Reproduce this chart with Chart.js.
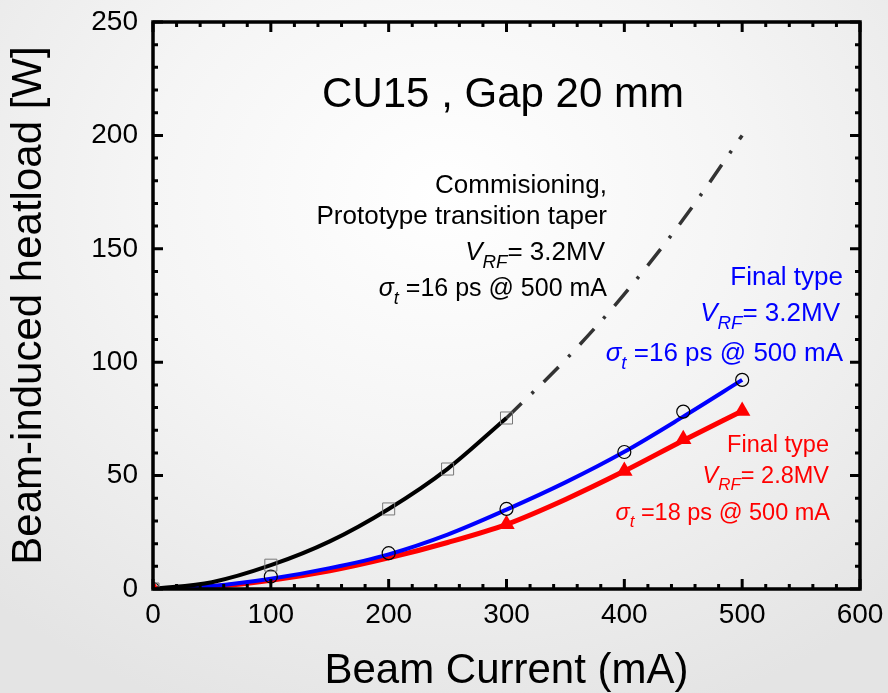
<!DOCTYPE html>
<html>
<head>
<meta charset="utf-8">
<script src="https://cdn.jsdelivr.net/npm/chart.js@4.4.1/dist/chart.umd.min.js"></script>
<style>
  html, body { margin: 0; padding: 0; }
  body {
    width: 888px; height: 693px; overflow: hidden;
    background: radial-gradient(ellipse 75% 80% at 50% 28%, #ffffff 0%, #f5f5f5 45%, #e4e4e4 100%);
  }
</style>
</head>
<body>
<canvas id="chart" width="888" height="693"></canvas>
<script>
// measured points
const commCurrent = [0, 100, 200, 250, 300];
const commHeat = [0, 10.5, 35.3, 52.9, 75.4];
const finalCurrent = [0, 100, 200, 300, 400, 450, 500];
const final32Heat = [0, 5.5, 15.8, 35.3, 60.4, 78.2, 92.2];
const final28Current = [0, 300, 400, 450, 500];
const final28Heat = [0, 28.5, 52, 66, 78.5];

// fitted curves
const fitCurrent = [0, 50, 100, 150, 200, 250, 300, 350, 400, 450, 500];
const commFitHeat = [0, 3, 10.5, 21, 35.3, 53, 75.4];
const extrapCurrent = [300, 350, 400, 450, 500];
const commExtrapHeat = [75.4, 101, 130, 163, 200];
const final32FitHeat = [0, 1.3, 4.5, 9.2, 15.3, 24, 35, 47, 60.5, 76, 92.2];
const final28FitHeat = [0, 1, 3.8, 8, 13.7, 20.5, 28.5, 39.5, 52, 65.5, 78.5];

const xTickValues = [0, 100, 200, 300, 400, 500, 600];
const yTickValues = [0, 50, 100, 150, 200, 250];

const FONT = '"Liberation Sans", Arial, sans-serif';

function pts(xs, ys) {
  return ys.map((y, i) => ({ x: xs[i], y: y }));
}

// annotation blocks: right aligned text, parts may be italic (i) or subscript (s)
const notes = [
  { x: 607, y: 107, size: 42, color: '#000', center: 503, parts: [{ t: 'CU15 , Gap 20 mm' }] },
  { x: 607, y: 193, size: 26, color: '#000', parts: [{ t: 'Commisioning,' }] },
  { x: 607, y: 224, size: 26, color: '#000', parts: [{ t: 'Prototype transition taper' }] },
  { x: 605, y: 260, size: 26, color: '#000', parts: [{ t: 'V', i: 1 }, { t: 'RF', i: 1, s: 1 }, { t: '= 3.2MV' }] },
  { x: 607, y: 296, size: 25, color: '#000', parts: [{ t: '\u03c3', i: 1 }, { t: 't', i: 1, s: 1 }, { t: ' =16 ps @ 500 mA' }] },
  { x: 843, y: 285, size: 26, color: '#0000ff', parts: [{ t: 'Final type' }] },
  { x: 840, y: 321, size: 26, color: '#0000ff', parts: [{ t: 'V', i: 1 }, { t: 'RF', i: 1, s: 1 }, { t: '= 3.2MV' }] },
  { x: 843, y: 361, size: 26, color: '#0000ff', parts: [{ t: '\u03c3', i: 1 }, { t: 't', i: 1, s: 1 }, { t: ' =16 ps @ 500 mA' }] },
  { x: 829, y: 452, size: 23.5, color: '#ff0000', parts: [{ t: 'Final type' }] },
  { x: 829, y: 483, size: 23.5, color: '#ff0000', parts: [{ t: 'V', i: 1 }, { t: 'RF', i: 1, s: 1 }, { t: '= 2.8MV' }] },
  { x: 830, y: 520, size: 23.5, color: '#ff0000', parts: [{ t: '\u03c3', i: 1 }, { t: 't', i: 1, s: 1 }, { t: ' =18 ps @ 500 mA' }] }
];

function partFont(p, size) {
  return (p.i ? 'italic ' : '') + (p.s ? size * 0.72 : size) + 'px ' + FONT;
}

function drawNote(ctx, n) {
  let w = 0;
  n.parts.forEach(p => { ctx.font = partFont(p, n.size); w += ctx.measureText(p.t).width; });
  let x = n.center !== undefined ? n.center - w / 2 : n.x - w;
  ctx.fillStyle = n.color;
  ctx.textAlign = 'left';
  ctx.textBaseline = 'alphabetic';
  n.parts.forEach(p => {
    ctx.font = partFont(p, n.size);
    ctx.fillText(p.t, x, n.y + (p.s ? n.size * 0.3 : 0));
    x += ctx.measureText(p.t).width;
  });
}

// box frame with inward major/minor ticks on all four sides
const framePlugin = {
  id: 'frame',
  afterDatasetsDraw(chart) {
    const { ctx, chartArea: a, scales: { x, y } } = chart;
    ctx.save();
    ctx.strokeStyle = '#000';
    ctx.lineCap = 'butt';
    ctx.lineWidth = 3;
    for (let v = 0; v <= 600; v += 20) {
      const px = x.getPixelForValue(v);
      const len = v % 100 === 0 ? 10 : 5;
      ctx.beginPath();
      ctx.moveTo(px, a.bottom); ctx.lineTo(px, a.bottom - len);
      ctx.moveTo(px, a.top); ctx.lineTo(px, a.top + len);
      ctx.stroke();
    }
    for (let v = 0; v <= 250; v += 10) {
      const py = y.getPixelForValue(v);
      const len = v % 50 === 0 ? 10 : 5;
      ctx.beginPath();
      ctx.moveTo(a.left, py); ctx.lineTo(a.left + len, py);
      ctx.moveTo(a.right, py); ctx.lineTo(a.right - len, py);
      ctx.stroke();
    }
    ctx.lineWidth = 3.5;
    ctx.strokeRect(a.left, a.top, a.right - a.left, a.bottom - a.top);
    ctx.restore();
  },
  afterDraw(chart) {
    const ctx = chart.ctx;
    ctx.save();
    notes.forEach(n => drawNote(ctx, n));
    ctx.restore();
  }
};

new Chart(document.getElementById('chart'), {
  type: 'line',
  data: {
    datasets: [
      {
        data: pts(commCurrent, commHeat), showLine: false, order: 1,
        pointStyle: 'rect', pointRadius: 8.5, pointBorderWidth: 1,
        pointBorderColor: '#777', pointBackgroundColor: 'rgba(0,0,0,0)'
      },
      {
        data: pts(finalCurrent, final32Heat), showLine: false, order: 1,
        pointStyle: 'circle', pointRadius: 6.5, pointBorderWidth: 1.2,
        pointBorderColor: '#000', pointBackgroundColor: 'rgba(0,0,0,0)'
      },
      {
        data: pts(final28Current, final28Heat), showLine: false, order: 1,
        pointStyle: 'triangle', pointRadius: 9.5, pointBorderWidth: 0,
        pointBorderColor: '#ff0000', pointBackgroundColor: '#ff0000'
      },
      {
        data: pts(fitCurrent, commFitHeat), order: 2, borderColor: '#000', borderWidth: 4,
        pointRadius: 0, cubicInterpolationMode: 'monotone'
      },
      {
        data: pts(extrapCurrent, commExtrapHeat), order: 2, borderColor: '#333', borderWidth: 3.5,
        borderDash: [21, 14, 3, 14], pointRadius: 0, cubicInterpolationMode: 'monotone'
      },
      {
        data: pts(fitCurrent, final32FitHeat), order: 2, borderColor: '#0000ff', borderWidth: 4,
        pointRadius: 0, cubicInterpolationMode: 'monotone'
      },
      {
        data: pts(fitCurrent, final28FitHeat), order: 2, borderColor: '#ff0000', borderWidth: 5,
        pointRadius: 0, cubicInterpolationMode: 'monotone'
      }
    ]
  },
  options: {
    responsive: false,
    animation: false,
    layout: { padding: { top: 22, right: 28, left: 0, bottom: 0 } },
    plugins: { legend: { display: false }, tooltip: { enabled: false } },
    scales: {
      x: {
        type: 'linear', min: 0, max: 600,
        grid: { display: false, drawTicks: false },
        border: { display: false },
        afterBuildTicks: s => { s.ticks = xTickValues.map(v => ({ value: v })); },
        afterFit: s => { s.height = 104; s.paddingLeft = 0; s.paddingRight = 0; },
        ticks: { padding: 9, color: '#000', font: { family: FONT, size: 28 } },
        title: {
          display: true, text: 'Beam Current (mA)', color: '#000',
          font: { family: FONT, size: 42, lineHeight: 1 }, padding: { top: 0, bottom: 1 }
        }
      },
      y: {
        min: 0, max: 250,
        grid: { display: false, drawTicks: false },
        border: { display: false },
        afterBuildTicks: s => { s.ticks = yTickValues.map(v => ({ value: v })); },
        afterFit: s => { s.width = 153; s.paddingTop = 0; s.paddingBottom = 0; },
        ticks: { padding: 15, color: '#000', font: { family: FONT, size: 28 } },
        title: {
          display: true, text: 'Beam-induced heatload [W]', color: '#000',
          font: { family: FONT, size: 42, lineHeight: 1.2 }, padding: { top: 4, bottom: 0 }
        }
      }
    }
  },
  plugins: [framePlugin]
});
</script>
</body>
</html>
